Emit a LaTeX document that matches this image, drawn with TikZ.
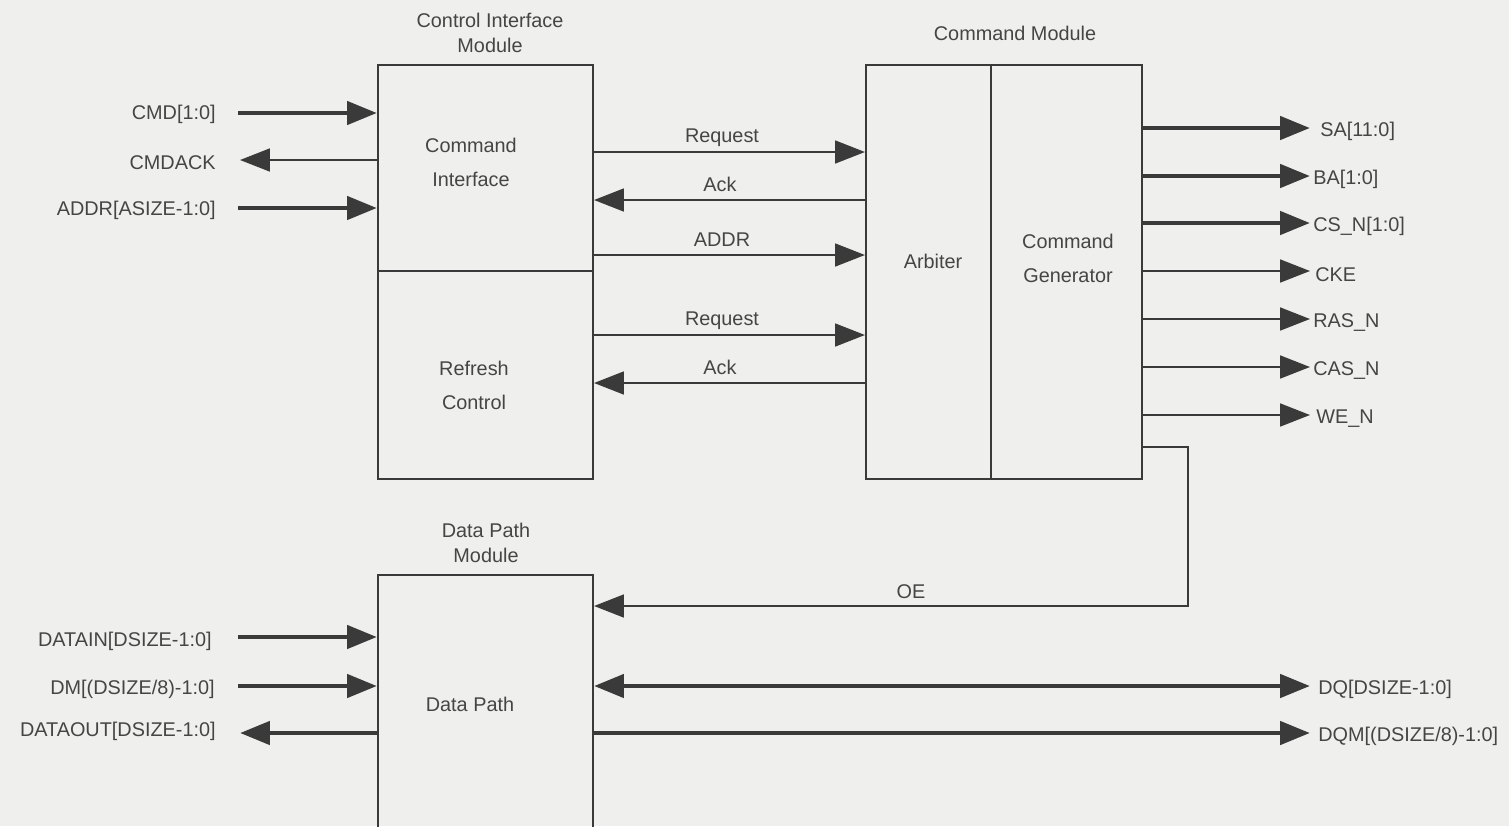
\documentclass[tikz,border=0pt]{standalone}
\usepackage{fontspec}
\setmainfont{Liberation Sans}
\usetikzlibrary{arrows.meta}
\definecolor{bg}{HTML}{EFEFED}
\definecolor{ln}{HTML}{3A3A3A}
\definecolor{tx}{HTML}{454545}
\begin{document}
\begin{tikzpicture}[x=0.02cm,y=-0.02cm,
  box/.style={draw=ln, line width=1.2pt, inner sep=0pt},
  lbl/.style={text=tx, font=\fontsize{11.3}{14.2}\selectfont, inner sep=0pt, align=center, yshift=-1pt},
  tip/.style={-{Triangle[length=17pt,width=13pt]}},
  bus/.style={draw=ln, line width=2.8pt, tip},
  sig/.style={draw=ln, line width=1.2pt, tip},
  bibus/.style={draw=ln, line width=2.8pt, {Triangle[length=17pt,width=13pt]}-{Triangle[length=17pt,width=13pt]}},
]
\fill[bg] (0,0) rectangle (1509,826);
\useasboundingbox (0,0) rectangle (1509,826);

% boxes
\node[box, minimum width=4.3cm, minimum height=8.28cm] (ci) at (485.5,272) {};
\node[box, minimum width=5.52cm, minimum height=8.28cm] (cm) at (1004,272) {};
\node[box, minimum width=4.3cm, minimum height=5.5cm] (dp) at (485.5,712.5) {};
\draw[ln, line width=1.2pt] (ci.west |- 0,271) -- (ci.east |- 0,271);
\draw[ln, line width=1.2pt] (cm.north -| 991,0) -- (cm.south -| 991,0);

% titles
\node[lbl] (tci) at (490,31) {Control Interface\\Module};
\node[lbl] (tcm) at (1015,32) {Command Module};
\node[lbl] (tdp) at (486,541) {Data Path\\Module};

% inner labels
\node[lbl] (ncmdif) at (471,161) {Command\\[5.1pt]Interface};
\node[lbl] (nref) at (474,384) {Refresh\\[5.1pt]Control};
\node[lbl] (narb) at (933,260) {Arbiter};
\node[lbl] (ngen) at (1068,257) {Command\\[5.1pt]Generator};
\node[lbl] (ndp) at (470,703) {Data Path};

% left inputs / outputs of control interface
\node[lbl, anchor=east] (lcmd) at (216,113) {CMD[1:0]};
\node[lbl, anchor=east] (lack) at (216,161) {CMDACK};
\node[lbl, anchor=east] (laddr) at (216,209) {ADDR[ASIZE-1:0]};
\coordinate (scmd) at (238,113);
\coordinate (sack) at (240,160);
\coordinate (saddr) at (238,208);
\draw[bus] (scmd) -- (ci.west |- scmd);
\draw[sig] (ci.west |- sack) -- (sack);
\draw[bus] (saddr) -- (ci.west |- saddr);

% middle signals
\coordinate (m1) at (722,152);
\coordinate (m2) at (722,200);
\coordinate (m3) at (722,255);
\coordinate (m4) at (722,335);
\coordinate (m5) at (722,383);
\draw[sig] (ci.east |- m1) -- (cm.west |- m1);
\draw[sig] (cm.west |- m2) -- (ci.east |- m2);
\draw[sig] (ci.east |- m3) -- (cm.west |- m3);
\draw[sig] (ci.east |- m4) -- (cm.west |- m4);
\draw[sig] (cm.west |- m5) -- (ci.east |- m5);
\node[lbl] (lm1) at (722,136) {Request};
\node[lbl] (lm2) at (720,183) {Ack};
\node[lbl] (lm3) at (722,238) {ADDR};
\node[lbl] (lm4) at (722,319) {Request};
\node[lbl] (lm5) at (720,366) {Ack};

% right outputs
\coordinate (r1) at (1310,128);
\coordinate (r2) at (1310,176);
\coordinate (r3) at (1310,223);
\coordinate (r4) at (1310,271);
\coordinate (r5) at (1310,319);
\coordinate (r6) at (1310,367);
\coordinate (r7) at (1310,415);
\draw[bus] (cm.east |- r1) -- (r1);
\draw[bus] (cm.east |- r2) -- (r2);
\draw[bus] (cm.east |- r3) -- (r3);
\draw[sig] (cm.east |- r4) -- (r4);
\draw[sig] (cm.east |- r5) -- (r5);
\draw[sig] (cm.east |- r6) -- (r6);
\draw[sig] (cm.east |- r7) -- (r7);
\node[lbl, anchor=west] (lr1) at (1320,130) {SA[11:0]};
\node[lbl, anchor=west] (lr2) at (1313,178) {BA[1:0]};
\node[lbl, anchor=west] (lr3) at (1313,225) {CS\_N[1:0]};
\node[lbl, anchor=west] (lr4) at (1315,273) {CKE};
\node[lbl, anchor=west] (lr5) at (1313,321) {RAS\_N};
\node[lbl, anchor=west] (lr6) at (1313,369) {CAS\_N};
\node[lbl, anchor=west] (lr7) at (1316,417) {WE\_N};

% OE
\coordinate (oe1) at (1188,447);
\coordinate (oe2) at (1188,606);
\draw[sig] (cm.east |- oe1) -- (oe1) -- (oe2) -- (dp.east |- oe2);
\node[lbl] (loe) at (911,590) {OE};

% data path signals
\node[lbl, anchor=east] (ldin) at (212,640) {DATAIN[DSIZE-1:0]};
\node[lbl, anchor=east] (ldm) at (215,688) {DM[(DSIZE/8)-1:0]};
\node[lbl, anchor=east] (ldout) at (216,730) {DATAOUT[DSIZE-1:0]};
\coordinate (sdin) at (238,637);
\coordinate (sdm) at (238,686);
\coordinate (sdout) at (240,733);
\draw[bus] (sdin) -- (dp.west |- sdin);
\draw[bus] (sdm) -- (dp.west |- sdm);
\draw[bus] (dp.west |- sdout) -- (sdout);

\coordinate (rdq) at (1310,686);
\coordinate (rdqm) at (1310,733);
\draw[bibus] (dp.east |- rdq) -- (rdq);
\draw[bus] (dp.east |- rdqm) -- (rdqm);
\node[lbl, anchor=west] (ldq) at (1318,688) {DQ[DSIZE-1:0]};
\node[lbl, anchor=west] (ldqm) at (1318,735) {DQM[(DSIZE/8)-1:0]};
\end{tikzpicture}
\end{document}
